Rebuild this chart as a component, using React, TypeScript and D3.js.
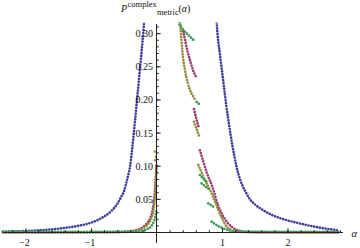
import React from 'react';
import * as d3 from 'd3';

type Pt = [number, number];

// ---- tick labels ----
const xTickLabels = [-2, -1, 1, 2];
const yTickLabels = [0.05, 0.1, 0.15, 0.2, 0.25, 0.3];

// ---- series (alpha, P) ----
const blueLeft: Pt[] = [
  [-2.35, 0.0012], [-2.2, 0.0016], [-2.0, 0.0022], [-1.8, 0.0033], [-1.6, 0.0048],
  [-1.4, 0.007], [-1.2, 0.01], [-1.0, 0.015], [-0.9, 0.019], [-0.8, 0.0245],
  [-0.7, 0.032], [-0.6, 0.044], [-0.55, 0.053], [-0.5, 0.063], [-0.46, 0.078],
  [-0.43, 0.09], [-0.41, 0.1], [-0.385, 0.12], [-0.36, 0.143], [-0.335, 0.168],
  [-0.31, 0.194], [-0.285, 0.22], [-0.26, 0.246], [-0.235, 0.272], [-0.21, 0.3],
  [-0.185, 0.33],
];
const blueRight: Pt[] = [
  [0.905, 0.33], [0.92, 0.305], [0.94, 0.285], [0.96, 0.27], [0.985, 0.25],
  [1.01, 0.23], [1.035, 0.21], [1.06, 0.19], [1.09, 0.17], [1.12, 0.15],
  [1.15, 0.132], [1.18, 0.116], [1.21, 0.101], [1.25, 0.086], [1.3, 0.072],
  [1.36, 0.06], [1.42, 0.05], [1.5, 0.042], [1.6, 0.035], [1.7, 0.029],
  [1.8, 0.0245], [1.9, 0.021], [2.0, 0.018], [2.13, 0.0148], [2.25, 0.012],
  [2.39, 0.009], [2.5, 0.007], [2.64, 0.005], [2.77, 0.003],
];

const magentaLeft: Pt[] = [
  [-2.35, 0.0002], [-1.5, 0.0003], [-1.0, 0.0004], [-0.6, 0.0008], [-0.45, 0.0015],
  [-0.4, 0.002], [-0.3, 0.004], [-0.2, 0.009], [-0.15, 0.014], [-0.1, 0.022],
  [-0.07, 0.032], [-0.05, 0.044], [-0.035, 0.058], [-0.025, 0.072], [-0.015, 0.088],
  [-0.008, 0.102],
];
const magentaRight1: Pt[] = [
  [0.4, 0.303], [0.412, 0.298], [0.44, 0.285], [0.473, 0.271], [0.51, 0.258],
  [0.55, 0.245], [0.575, 0.239], [0.595, 0.235],
];
const magentaRight2: Pt[] = [[0.565, 0.186], [0.6, 0.172], [0.641, 0.158]];
const magentaRight3: Pt[] = [
  [0.656, 0.124], [0.702, 0.109], [0.763, 0.0897], [0.847, 0.0686], [0.931, 0.0415],
  [0.992, 0.0279], [1.069, 0.0158], [1.145, 0.0083], [1.267, 0.0023], [1.4, 0.0008],
  [1.7, 0.0004], [2.2, 0.0003], [2.77, 0.0002],
];

const oliveLeft: Pt[] = [
  [-2.35, 0.0001], [-1.5, 0.0002], [-1.0, 0.0003], [-0.6, 0.0006], [-0.45, 0.0011],
  [-0.4, 0.0015], [-0.3, 0.003], [-0.2, 0.007], [-0.15, 0.011], [-0.1, 0.018],
  [-0.07, 0.026], [-0.05, 0.036], [-0.035, 0.048], [-0.025, 0.062], [-0.015, 0.08],
  [-0.01, 0.1],
];
const oliveScatter: Pt[] = [[-0.03, 0.122], [-0.015, 0.114], [-0.03, 0.109], [-0.005, 0.1]];
const oliveRight1: Pt[] = [
  [0.351, 0.33], [0.36, 0.31], [0.374, 0.29], [0.397, 0.265], [0.427, 0.245],
  [0.473, 0.225], [0.504, 0.215], [0.554, 0.205], [0.591, 0.199],
];
const oliveRight2: Pt[] = [[0.565, 0.167], [0.61, 0.155], [0.656, 0.1425]];
const oliveRight3: Pt[] = [
  [0.631, 0.102], [0.68, 0.091], [0.733, 0.079], [0.785, 0.069], [0.835, 0.059],
  [0.885, 0.047], [0.936, 0.034], [1.0, 0.02], [1.064, 0.0087], [1.13, 0.004],
  [1.2, 0.0015], [1.4, 0.0006], [2.0, 0.0003], [2.77, 0.0001],
];

const greenLeft: Pt[] = [
  [-2.35, 0.0008], [-1.5, 0.0008], [-1.0, 0.0008], [-0.6, 0.0008], [-0.4, 0.001],
  [-0.3, 0.0015], [-0.2, 0.003], [-0.15, 0.005], [-0.1, 0.008], [-0.07, 0.012],
  [-0.05, 0.016], [-0.03, 0.022], [-0.02, 0.027], [-0.01, 0.032],
];
const greenRight1: Pt[] = [
  [0.335, 0.322], [0.34, 0.3145], [0.385, 0.308], [0.427, 0.303], [0.465, 0.299],
  [0.504, 0.2955], [0.54, 0.292], [0.58, 0.289],
];
const greenRight2: Pt[] = [[0.606, 0.197], [0.634, 0.1945], [0.656, 0.192]];
const greenRight3: Pt[] = [[0.656, 0.0867], [0.7, 0.082], [0.759, 0.0766]];
const greenRight4: Pt[] = [[0.682, 0.074], [0.745, 0.069], [0.809, 0.064]];
const greenRight5: Pt[] = [[0.783, 0.044], [0.82, 0.0415], [0.859, 0.039]];
const greenRight6: Pt[] = [
  [0.835, 0.0163], [0.88, 0.013], [0.93, 0.01], [1.012, 0.0063], [1.1, 0.003],
  [1.2, 0.0012], [1.4, 0.0008], [2.0, 0.0008], [2.77, 0.0008],
];

const seriesColors = ['#3f3d99', '#993d71', '#998b3d', '#3d9956'];
const seriesSegments: Pt[][][] = [
  [blueLeft, blueRight],
  [magentaLeft, magentaRight1, magentaRight2, magentaRight3],
  [oliveLeft, oliveRight1, oliveRight2, oliveRight3],
  [greenLeft, greenRight1, greenRight2, greenRight3, greenRight4, greenRight5, greenRight6],
];

const W = 360;
const H = 248;
const FONT = '"Liberation Serif", "Times New Roman", serif';

export default function App() {
  const x = d3.scaleLinear().domain([-2.35, 2.84]).range([3, 343]);
  const y = d3.scaleLinear().domain([0, 0.3145]).range([232.5, 24]);
  const line = d3
    .line<Pt>()
    .x((d) => x(d[0]))
    .y((d) => y(d[1]))
    .curve(d3.curveMonotoneX);

  const x0 = Math.round(x(0)) - 0.5;
  const yAxisBottom = 243;
  const xMinor = d3.range(-22, 29, 2).map((v) => v / 10).filter((v) => Math.abs(v) > 1e-9);
  const yMinor = d3.range(1, 32).map((v) => v / 100);

  return (
    <svg
      width={W}
      height={H}
      style={{ position: 'absolute', left: 0, top: 0, background: '#fff' }}
      xmlns="http://www.w3.org/2000/svg"
    >
      <defs>
        <clipPath id="plotClip">
          <rect x={0} y={22.5} width={W} height={H - 22.5} />
        </clipPath>
      </defs>

      {/* data */}
      <g clipPath="url(#plotClip)">
        {seriesSegments.map((segs, si) =>
          segs.map((seg, k) => (
            <path
              key={`${si}-${k}`}
              d={line(seg) || ''}
              fill="none"
              stroke={seriesColors[si]}
              strokeWidth={2.7}
              strokeLinecap="round"
              strokeDasharray="0 2.9"
            />
          ))
        )}
        {oliveScatter.map((d, i) => (
          <circle key={i} cx={x(d[0])} cy={y(d[1])} r={1.3} fill={seriesColors[2]} />
        ))}
      </g>

      {/* axes */}
      <g stroke="#222" strokeWidth={1} fill="none">
        <line x1={x.range()[0]} x2={x.range()[1]} y1={y(0)} y2={y(0)} />
        <line x1={x0} x2={x0} y1={y.range()[1]} y2={yAxisBottom} />
        {xMinor.map((v) => (
          <line key={`xm${v}`} x1={x(v)} x2={x(v)} y1={y(0)} y2={y(0) - 2.3} />
        ))}
        {xTickLabels.map((v) => (
          <line key={`xM${v}`} x1={x(v)} x2={x(v)} y1={y(0)} y2={y(0) - 4.2} />
        ))}
        {yMinor.map((v) => (
          <line key={`ym${v}`} x1={x0} x2={x0 + 2.3} y1={y(v)} y2={y(v)} />
        ))}
        {yTickLabels.map((v) => (
          <line key={`yM${v}`} x1={x0} x2={x0 + 4.2} y1={y(v)} y2={y(v)} />
        ))}
      </g>

      {/* tick labels */}
      <g fontFamily={FONT} fontSize={10} fill="#111">
        {xTickLabels.map((v) => (
          <text key={`xl${v}`} x={x(v) - (v < 0 ? 1.5 : 0)} y={245.5} textAnchor="middle">
            {v < 0 ? `\u2212${Math.abs(v)}` : `${v}`}
          </text>
        ))}
        {yTickLabels.map((v) => (
          <text key={`yl${v}`} x={x0 - 3.5} y={y(v) + 3.5} textAnchor="end">
            {d3.format('.2f')(v)}
          </text>
        ))}
      </g>

      {/* axis labels */}
      <text x={351.5} y={236.5} fontFamily={FONT} fontSize={10.5} fontStyle="italic" fill="#111">
        α
      </text>
      <g fontFamily={FONT} fill="#111">
        <text x={121} y={12} fontSize={10} fontStyle="italic">P</text>
        <text x={127.5} y={7} fontSize={8.5}>complex</text>
        <text x={157} y={15} fontSize={8.5}>metric</text>
        <text x={178.5} y={12} fontSize={10}>
          (<tspan fontStyle="italic">α</tspan>)
        </text>
      </g>
    </svg>
  );
}
